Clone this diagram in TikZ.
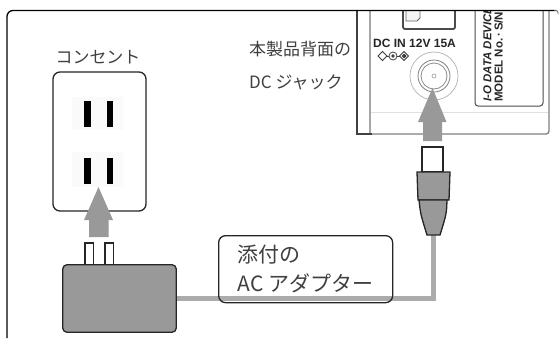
\documentclass[tikz,border=0pt]{standalone}
\usepackage{fontspec}
\setmainfont{Liberation Sans}
\newfontfamily\jpfont{Noto Sans CJK JP}
\newfontfamily\panelfont{Liberation Sans}
\begin{document}
\begin{tikzpicture}[x=1pt,y=-1pt,
  outline/.style={draw=black!85, line width=1.3pt},
  darkpart/.style={fill=black!40, draw=black!85, line width=1.3pt},
  guidearrow/.style={fill=black!40},
  cable/.style={draw=black!33, line width=5pt},
  jptext/.style={font=\jpfont\fontsize{17}{17}\selectfont, text=black!75, inner sep=0pt},
  panelbold/.style={font=\panelfont\bfseries\fontsize{11.5}{11.5}\selectfont, text=black!85, inner sep=0pt},
]
\useasboundingbox (0,0) rectangle (560,338);
\fill[white] (0,0) rectangle (560,338);

% ---- rear panel of the unit (cut off by the frame) ----
\begin{scope}
  \clip (300,11) rectangle (560,338);
  \fill[white] (357,0) rectangle (549,134);
  \draw[black!75, line width=1.1pt] (357,0) -- (357,134) -- (372,134);
  \draw[black!50, line width=1.3pt, rounded corners=3pt] (372,134) -- (549,134) -- (549,0);
  \draw[black!35, line width=2pt] (370,0) -- (370,133);
  \draw[black!12, line width=0.8pt] (371,112) -- (548,112);
  % switch notch
  \draw[black!70, line width=1.8pt, rounded corners=2pt, fill=white] (403,0) -- (403,29) -- (455,29) -- (455,0);
  \draw[black!60, line width=0.8pt, fill=black!4] (406,0) -- (406,21) -- (417,21) -- (420,18) -- (420,0);
  % rating text
  \node[panelbold, font=\panelfont\bfseries\fontsize{12}{12}\selectfont, anchor=west] (rating) at (373,43) {DC IN 12V 15A};
  % polarity mark
  \draw[black!75, line width=0.8pt] (378,56) -- (382.5,51.5) -- (387,56) -- (382.5,60.5) -- cycle;
  \draw[black!75, line width=0.8pt] (387,56) -- (389,56);
  \draw[black!75, line width=0.8pt] (393,56) circle[radius=4];
  \fill[black!75] (393,56) circle[radius=1.8];
  \draw[black!75, line width=0.8pt] (397,56) -- (399.5,56);
  \draw[black!75, line width=0.8pt] (399.5,56) -- (404,51.5) -- (408.5,56) -- (404,60.5) -- cycle;
  \fill[black!75] (401.5,56) -- (404,53.5) -- (406.5,56) -- (404,58.5) -- cycle;
  % DC jack
  \node[circle, draw=black!30, line width=0.7pt, minimum size=48pt, inner sep=0pt] (jack) at (434,76) {};
  \draw[black!50, line width=0.8pt] (jack.center) circle[radius=16];
  \draw[black!45, line width=0.8pt] (jack.center) circle[radius=13];
  \draw[black!40, line width=0.6pt] (jack.center) circle[radius=2];
  % model label
  \draw[black!70, line width=1pt, rounded corners=3pt, fill=white] (475,0) -- (475,106) -- (543,106) -- (543,0);
  \node[panelbold, font=\panelfont\bfseries\itshape\fontsize{11.5}{11.5}\selectfont, rotate=90, anchor=west] (maker) at (487.5,102) {I-O DATA DEVICE};
  \node[panelbold, rotate=90, anchor=west] (model) at (498.5,102) {MODEL No.\,·\,S/N};
\end{scope}

% ---- frame ----
\draw[line width=1.3pt, rounded corners=6pt] (7,338) -- (7,10.5) -- (556,10.5);
\draw[black!60, line width=0.8pt, rounded corners=2pt] (554,10.5) -- (558,10.5) -- (558,14);

% ---- wall outlet ----
\node[outline, fill=white, rounded corners=7pt, minimum width=93pt, minimum height=139pt, inner sep=0pt] (outlet) at (99.5,141.5) {};
\fill[black!2] (72,97) rectangle (123,130);
\fill[black!2] (72,152) rectangle (123,187);
\fill[black] (84,101) rectangle (91,127);
\fill[black] (107,101) rectangle (113,127);
\fill[black] (84,158) rectangle (91,184);
\fill[black] (107,158) rectangle (113,184);
\node[jptext] (outletlabel) at (98,57) {コンセント};

% ---- cable from adapter to plug ----
\coordinate (cabletop) at (433.5,232);
\node[inner sep=0pt, minimum width=113pt, minimum height=67pt] (adapter) at (119.5,298.5) {};
\draw[cable] (cabletop) |- (adapter.east);

% ---- AC adapter ----
\draw[outline, line width=1.1pt, fill=white] (85,243) rectangle (93.5,266);
\draw[outline, line width=1.1pt, fill=white] (105,243) rectangle (113.5,266);
\draw[darkpart, rounded corners=4pt] (adapter.north west) rectangle (adapter.south east);

% ---- DC plug ----
\draw[outline, fill=white] (422,147) rectangle (443,172);
\draw[darkpart] (417,172) -- (450,172) -- (449,200) -- (418,200) -- cycle;
\draw[darkpart] (419,200) -- (447,200) .. controls (446.5,214) .. (440,235) -- (427,235) .. controls (420.5,214) .. (419,200) -- cycle;

% ---- insertion arrows ----
\fill[guidearrow] (98.5,187) -- (113,220) -- (108.5,220) -- (108.5,237) -- (89,237) -- (89,220) -- (84,220) -- cycle;
\fill[guidearrow] (432.5,88) -- (446.5,122) -- (442,122) -- (442,141) -- (423,141) -- (423,122) -- (418,122) -- cycle;

% ---- labels ----
\node[jptext, align=left, font=\jpfont\fontsize{17}{33}\selectfont, anchor=west] (jacklabel) at (249,65.5) {本製品背面の\\DC ジャック};
\node[draw=black!85, line width=1.3pt, rounded corners=7pt, minimum width=174pt, minimum height=67pt,
      inner sep=0pt, align=left, text=black!75, font=\jpfont\fontsize{21}{29}\selectfont, anchor=north west] (adlabel) at (218,235) {添付の\\AC アダプター};
\end{tikzpicture}
\end{document}
